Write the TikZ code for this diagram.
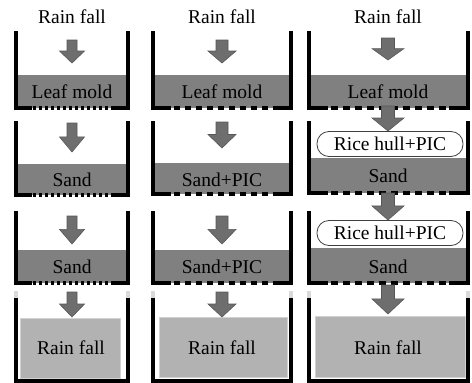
\documentclass[tikz,border=0pt]{standalone}
\usepackage{fontspec}
\setmainfont{Liberation Serif}
\newfontfamily\tnr{Liberation Serif}
\begin{document}
\begin{tikzpicture}[x=1pt,y=-1pt,
  wall/.style={line width=4pt, line join=miter, line cap=rect, black},
  perf/.style={line width=4pt, black},
  soil/.style={fill=black!50},
  water/.style={fill=black!30, draw=black!18, line width=1pt},
  arrowsty/.style={fill=black!57, draw=black!66, line width=0.6pt},
  lbl/.style={font=\tnr\fontsize{19.5}{21}\selectfont, inner sep=0pt},
  hull/.style={draw=black!75, fill=white, line width=0.8pt, rounded corners=12pt,
    minimum width=146pt, minimum height=25pt, inner sep=0pt, font=\tnr\fontsize{19.5}{21}\selectfont},
  tip/.style={line width=4pt, black!15, line cap=rect}
]
\useasboundingbox (0,0) rectangle (472,383);
% #1 x, #2 ytop, #3 ybot, #4 half shaft, #5 half head
\newcommand\garrow[5]{%
  \filldraw[arrowsty] ({#1-#4},#2) -- ({#1+#4},#2) -- ({#1+#4},{#2+0.48*(#3-#2)})
    -- ({#1+#5},{#2+0.48*(#3-#2)}) -- (#1,#3) -- ({#1-#5},{#2+0.48*(#3-#2)})
    -- ({#1-#4},{#2+0.48*(#3-#2)}) -- cycle;}
% #1 L, #2 R, #3 top, #4 bottom, #5 solid end, #6 dash, #7 gap
\newcommand\tank[7]{%
  \draw[wall] (#1,#3) -- (#1,#4) -- ({#1+#5},#4);
  \draw[wall] (#2,#3) -- (#2,#4) -- ({#2-#5},#4);
  \draw[perf, dash pattern=on #6pt off #7pt] ({#1+#5+#7},#4) -- ({#2-#5},#4);}
% #1 L, #2 R, #3 top, #4 bottom
\newcommand\basin[4]{%
  \draw[tip] (#1,#3) -- (#1,{#3+6});
  \draw[tip] (#2,#3) -- (#2,{#3+6});
  \draw[wall] (#1,{#3+7}) -- (#1,#4) -- (#2,#4) -- (#2,{#3+7});}

% ---------- top labels
\node[lbl] (t1) at (72,17) {Rain fall};
\node[lbl] (t2) at (222,17) {Rain fall};
\node[lbl] (t3) at (388,17) {Rain fall};

% ---------- column 1
\fill[soil] (16,75) rectangle (128,108);
\node[lbl] (c1r1) at (72,92) {Leaf mold};
\tank{16}{128}{33}{108}{14}{3}{3}
\garrow{72}{40}{63}{5}{12.5}

\fill[soil] (16,164) rectangle (128,195);
\node[lbl] (c1r2) at (72,180) {Sand};
\tank{16}{128}{123}{195}{14}{3}{3}
\garrow{72}{123}{152}{5}{12.5}

\fill[soil] (16,250) rectangle (128,283);
\node[lbl] (c1r3) at (72,267) {Sand};
\tank{16}{128}{213}{283}{14}{3}{3}
\garrow{72}{216}{244}{5}{12.5}

\filldraw[water] (20,318) rectangle (120,378);
\node[lbl] (c1r4) at (71,348) {Rain fall};
\basin{16}{128}{293}{381}
\garrow{72}{292}{317}{5}{12.5}

% ---------- column 2
\fill[soil] (153,75) rectangle (291,108);
\node[lbl] (c2r1) at (222,92) {Leaf mold};
\tank{153}{291}{33}{108}{16}{6.5}{4.5}
\garrow{222}{40}{63}{6}{14}

\fill[soil] (153,163) rectangle (291,194);
\node[lbl] (c2r2) at (222,180) {Sand+PIC};
\tank{153}{291}{123}{194}{16}{6.5}{4.5}
\garrow{222}{122}{148}{6}{14}

\fill[soil] (153,250) rectangle (291,283);
\node[lbl] (c2r3) at (222,267) {Sand+PIC};
\tank{153}{291}{213}{283}{16}{6.5}{4.5}
\garrow{222}{216}{244}{6}{14}

\filldraw[water] (159,317) rectangle (287,377);
\node[lbl] (c2r4) at (222,348) {Rain fall};
\basin{153}{291}{293}{381}
\garrow{222}{292}{317}{6}{14}

% ---------- column 3
\fill[soil] (309,75) rectangle (468,108);
\node[lbl] (c3r1) at (388,92) {Leaf mold};
\tank{309}{468}{33}{108}{17}{7.5}{4.5}
\garrow{388}{38}{60}{6.5}{16}

\fill[soil] (309,158) rectangle (468,193);
\node[lbl] (c3r2) at (388,176) {Sand};
\tank{309}{468}{123}{193}{17}{7.5}{4.5}
\node[hull] (h2) at (390,144) {Rice hull+PIC};
\garrow{388}{106}{131}{6.5}{16}

\fill[soil] (309,248) rectangle (468,283);
\node[lbl] (c3r3) at (388,267) {Sand};
\tank{309}{468}{213}{283}{17}{7.5}{4.5}
\node[hull] (h3) at (390,233) {Rice hull+PIC};
\garrow{388}{193}{220}{6.5}{16}

\filldraw[water] (315,316) rectangle (465,377);
\node[lbl] (c3r4) at (388,348) {Rain fall};
\basin{309}{468}{293}{381}
\garrow{388}{285}{314}{6.5}{16}
\end{tikzpicture}
\end{document}
